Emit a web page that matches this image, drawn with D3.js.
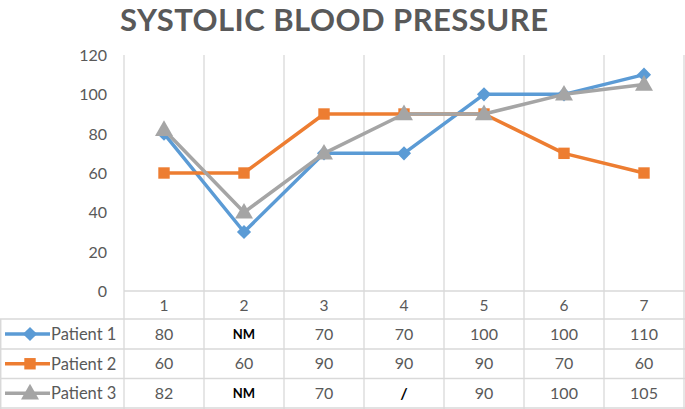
<!DOCTYPE html>
<html><head><meta charset="utf-8">
<script src="https://cdn.jsdelivr.net/npm/d3@7"></script>
<style>html,body{margin:0;padding:0;background:#fff;} svg{display:block;font-family:Lato, "Open Sans", sans-serif;}</style>
</head><body>
<svg id="c" width="685" height="409"></svg>
<script>
const title = "SYSTOLIC BLOOD PRESSURE";
const categories = ["1","2","3","4","5","6","7"];
const yTicks = [0,20,40,60,80,100,120];
const seriesNames = ["Patient 1","Patient 2","Patient 3"];
const patient1 = [80,30,70,70,100,100,110];
const patient2 = [60,60,90,90,90,70,60];
const patient3 = [82,40,70,90,90,100,105];
const patient1Labels = ["80","NM","70","70","100","100","110"];
const patient2Labels = ["60","60","90","90","90","70","60"];
const patient3Labels = ["82","NM","70","/","90","100","105"];

(function(){
const colors = ["#5B9BD5","#ED7D31","#A5A5A5"];
const symbols = [d3.symbolSquare, d3.symbolSquare, d3.symbolTriangle];
const symSizes = [100, 130, 140];
const symRot = [45, 0, 0];
const series = [patient1, patient2, patient3];
const labels = [patient1Labels, patient2Labels, patient3Labels];

const svg = d3.select("#c");
const pLeft = 124, pRight = 684, pTop = 55, pBottom = 291;
const x = d3.scaleBand().domain(categories).range([pLeft, pRight]).padding(0);
const y = d3.scaleLinear().domain([0,120]).range([pBottom, pTop]);
const rowY = [291, 319, 349, 378.5, 408];
const grid = "#D9D9D9";
const txt = "#595959";

// title
svg.append("text").attr("x", 334).attr("y", 31).attr("text-anchor","middle")
  .attr("font-size", 31).attr("font-weight", 700).attr("fill", txt)
  .attr("textLength", 428).attr("lengthAdjust","spacing").text(title);

// vertical grid lines (chart + table)
const vx = [pLeft].concat(categories.map(c => x(c) + x.bandwidth()));
svg.selectAll("line.v").data(vx).enter().append("line")
  .attr("x1", d => d).attr("x2", d => d).attr("y1", pTop).attr("y2", 409)
  .attr("stroke", grid).attr("stroke-width", 1.3);

// horizontal table lines
svg.append("line").attr("x1", pLeft).attr("x2", 685).attr("y1", rowY[0]).attr("y2", rowY[0]).attr("stroke", grid).attr("stroke-width", 1.5);
svg.selectAll("line.h").data(rowY.slice(1)).enter().append("line")
  .attr("x1", 0).attr("x2", 685).attr("y1", d => d).attr("y2", d => d)
  .attr("stroke", grid).attr("stroke-width", 1.5);
svg.append("line").attr("x1", 0.7).attr("x2", 0.7).attr("y1", rowY[1]).attr("y2", 409).attr("stroke", grid).attr("stroke-width", 1.5);

// y axis labels
const yAxis = d3.axisLeft(y).tickValues(yTicks).tickSize(0).tickPadding(0);
const ga = svg.append("g").attr("transform", "translate(107,0)").call(yAxis);
ga.select(".domain").remove();
ga.selectAll("text").attr("font-size", 16).attr("fill", txt).attr("font-family", "Lato, sans-serif").attr("dy", "0.35em");

// category labels row
svg.selectAll("text.cat").data(categories).enter().append("text")
  .attr("x", d => x(d) + x.bandwidth()/2).attr("y", (rowY[0]+rowY[1])/2 + 1).attr("dy","0.35em")
  .attr("text-anchor","middle").attr("font-size", 15.5).attr("fill", txt).text(d => d);

// lines and markers
const line = d3.line().x((d,i) => x(categories[i]) + x.bandwidth()/2).y(d => y(d));
series.forEach((s, k) => {
  svg.append("path").datum(s).attr("d", line).attr("fill","none")
    .attr("stroke", colors[k]).attr("stroke-width", 3.5).attr("stroke-linejoin","round");
  svg.selectAll("path.m"+k).data(s).enter().append("path")
    .attr("d", d3.symbol().type(symbols[k]).size(symSizes[k]))
    .attr("transform", (d,i) => `translate(${x(categories[i]) + x.bandwidth()/2},${y(d) + (k===2?1:0)}) rotate(${symRot[k]})`)
    .attr("fill", colors[k]);
});

// table rows
series.forEach((s, k) => {
  const cy = (rowY[k+1] + rowY[k+2]) / 2;
  svg.append("line").attr("x1", 5).attr("x2", 50).attr("y1", cy).attr("y2", cy)
    .attr("stroke", colors[k]).attr("stroke-width", 3.5);
  svg.append("path").attr("d", d3.symbol().type(symbols[k]).size(symSizes[k]))
    .attr("transform", `translate(30,${cy + (k===2?1:0)}) rotate(${symRot[k]})`).attr("fill", colors[k]);
  svg.append("text").attr("x", 51).attr("y", cy).attr("dy","0.35em")
    .attr("font-size", 16.5).attr("fill", txt).text(seriesNames[k]);
  svg.selectAll("text.v"+k).data(labels[k]).enter().append("text")
    .attr("x", (d,i) => x(categories[i]) + x.bandwidth()/2).attr("y", cy).attr("dy","0.35em")
    .attr("text-anchor","middle")
    .attr("font-size", d => (d === "NM") ? 13 : 16)
    .attr("font-weight", d => (d === "NM" || d === "/") ? 700 : 400)
    .attr("fill", d => (d === "NM" || d === "/") ? "#000" : txt)
    .text(d => d);
});
})();
</script>
</body></html>
